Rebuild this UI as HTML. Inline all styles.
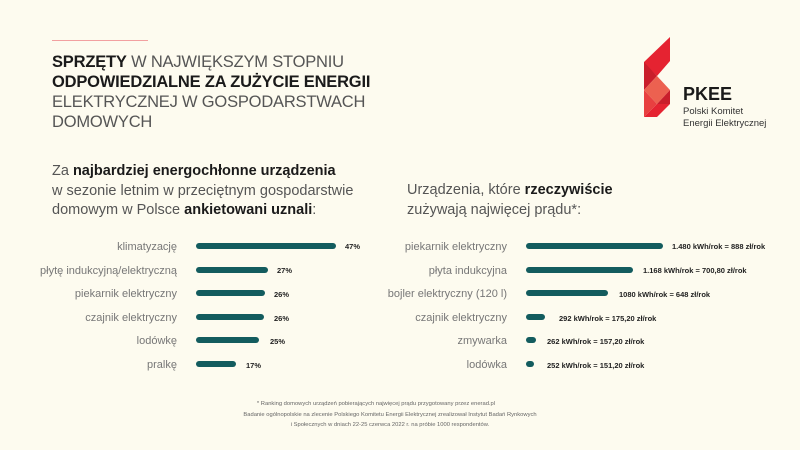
<!DOCTYPE html>
<html><head><meta charset="utf-8"><style>
body{margin:0;width:800px;height:450px;background:#fdfbef;font-family:"Liberation Sans",sans-serif;position:relative;overflow:hidden}
.a{position:absolute;white-space:nowrap}
.t{left:52px;font-size:16.5px;color:#555;letter-spacing:-0.2px;line-height:20px}
.t b{color:#1a1a1a}
.s{font-size:14.5px;color:#555;line-height:19.5px}
.s b{color:#1a1a1a}
.lab{font-size:11px;color:#777;text-align:right;width:200px;margin-top:2px}
.bar{position:absolute;height:6px;background:#135c5e;border-radius:3px}
.v{font-size:7.5px;font-weight:bold;color:#222}
.f{font-size:5.8px;color:#666;text-align:center;width:400px;left:190px}
</style></head><body>
<div class="a" style="left:52px;top:40px;width:96px;height:1px;background:#f2a0a0"></div>
<div class="a t" style="top:52px"><b>SPRZĘTY</b> W NAJWIĘKSZYM STOPNIU</div>
<div class="a t" style="top:72px"><b>ODPOWIEDZIALNE ZA ZUŻYCIE ENERGII</b></div>
<div class="a t" style="top:92px">ELEKTRYCZNEJ W GOSPODARSTWACH</div>
<div class="a t" style="top:112px">DOMOWYCH</div>

<div class="a s" style="left:52px;top:162px">Za <b>najbardziej energochłonne urządzenia</b><br>w sezonie letnim w przeciętnym gospodarstwie<br>domowym w Polsce <b>ankietowani uznali</b>:</div>
<div class="a s" style="left:407px;top:181px">Urządzenia, które <b>rzeczywiście</b><br>zużywają najwięcej prądu*:</div>

<svg class="a" style="left:0;top:0" width="800" height="450">
<polygon points="670,37 670,61 657,76 644,63 644,62" fill="#e52331"/>
<polygon points="644,62 657,76 644,90" fill="#c91e2b"/>
<polygon points="657,76 670,90 657,104 644,90" fill="#ec6150"/>
<polygon points="670,90 670,104 657,104" fill="#c91e2b"/>
<polygon points="657,104 670,104 657,117 644,117" fill="#e52331"/>
<polygon points="644,90 657,104 644,117" fill="#e84040"/>
</svg>
<div class="a" style="left:683px;top:84px;font-size:18px;font-weight:bold;color:#1a1a1a">PKEE</div>
<div class="a" style="left:683px;top:106px;font-size:9.5px;color:#333;line-height:12px">Polski Komitet<br>Energii Elektrycznej</div>

<div class="a lab" style="left:-23px;top:239px">klimatyzację</div>
<div class="a lab" style="left:-23px;top:263px">płytę indukcyjną/elektryczną</div>
<div class="a lab" style="left:-23px;top:286px">piekarnik elektryczny</div>
<div class="a lab" style="left:-23px;top:310px">czajnik elektryczny</div>
<div class="a lab" style="left:-23px;top:333px">lodówkę</div>
<div class="a lab" style="left:-23px;top:357px">pralkę</div>
<div class="bar" style="left:196px;top:243px;width:140px"></div>
<div class="bar" style="left:196px;top:267px;width:72px"></div>
<div class="bar" style="left:196px;top:290px;width:69px"></div>
<div class="bar" style="left:196px;top:314px;width:68px"></div>
<div class="bar" style="left:196px;top:337px;width:63px"></div>
<div class="bar" style="left:196px;top:361px;width:40px"></div>
<div class="a v" style="left:345px;top:242px">47%</div>
<div class="a v" style="left:277px;top:266px">27%</div>
<div class="a v" style="left:274px;top:290px">26%</div>
<div class="a v" style="left:274px;top:314px">26%</div>
<div class="a v" style="left:270px;top:337px">25%</div>
<div class="a v" style="left:246px;top:361px">17%</div>

<div class="a lab" style="left:307px;top:239px">piekarnik elektryczny</div>
<div class="a lab" style="left:307px;top:263px">płyta indukcyjna</div>
<div class="a lab" style="left:307px;top:286px">bojler elektryczny (120 l)</div>
<div class="a lab" style="left:307px;top:310px">czajnik elektryczny</div>
<div class="a lab" style="left:307px;top:333px">zmywarka</div>
<div class="a lab" style="left:307px;top:357px">lodówka</div>
<div class="bar" style="left:526px;top:243px;width:137px"></div>
<div class="bar" style="left:526px;top:267px;width:107px"></div>
<div class="bar" style="left:526px;top:290px;width:82px"></div>
<div class="bar" style="left:526px;top:314px;width:19px"></div>
<div class="bar" style="left:526px;top:337px;width:10px"></div>
<div class="bar" style="left:526px;top:361px;width:8px"></div>
<div class="a v" style="left:672px;top:242px">1.480 kWh/rok = 888 zł/rok</div>
<div class="a v" style="left:643px;top:266px">1.168 kWh/rok = 700,80 zł/rok</div>
<div class="a v" style="left:619px;top:290px">1080 kWh/rok = 648 zł/rok</div>
<div class="a v" style="left:559px;top:314px">292 kWh/rok = 175,20 zł/rok</div>
<div class="a v" style="left:547px;top:337px">262 kWh/rok = 157,20 zł/rok</div>
<div class="a v" style="left:547px;top:361px">252 kWh/rok = 151,20 zł/rok</div>

<div class="a f" style="top:401px;left:176px">* Ranking domowych urządzeń pobierających najwięcej prądu przygotowany przez enerad.pl</div>
<div class="a f" style="top:412px">Badanie ogólnopolskie na zlecenie Polskiego Komitetu Energii Elektrycznej zrealizował Instytut Badań Rynkowych</div>
<div class="a f" style="top:422px">i Społecznych w dniach 22-25 czerwca 2022 r. na próbie 1000 respondentów.</div>
</body></html>
